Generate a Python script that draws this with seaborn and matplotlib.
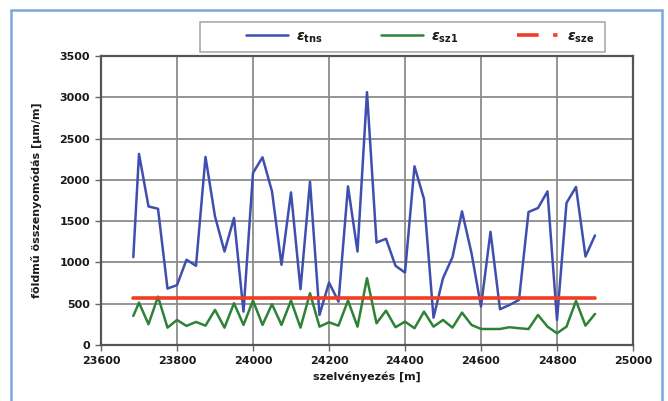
import matplotlib
matplotlib.use("Agg")
import matplotlib.pyplot as plt
from matplotlib.lines import Line2D
from matplotlib.patches import Rectangle
import seaborn as sns
import pandas as pd

# ---- data ----
station = [23685, 23700, 23725, 23750, 23775, 23800, 23825, 23850, 23875, 23900,
           23925, 23950, 23975, 24000, 24025, 24050, 24075, 24100, 24125, 24150,
           24175, 24200, 24225, 24250, 24275, 24300, 24325, 24350, 24375, 24400,
           24425, 24450, 24475, 24500, 24525, 24550, 24575, 24600, 24625, 24650,
           24675, 24700, 24725, 24750, 24775, 24800, 24825, 24850, 24875, 24900]
eps_tns = [1064, 2314, 1678, 1650, 683, 725, 1032, 959, 2278, 1557,
           1132, 1538, 404, 2084, 2273, 1860, 971, 1848, 676, 1978,
           364, 756, 525, 1921, 1132, 3062, 1241, 1286, 959, 877,
           2164, 1768, 331, 809, 1064, 1618, 1113, 465, 1371, 433,
           485, 546, 1610, 1659, 1860, 303, 1720, 1914, 1072, 1327]
eps_sz1 = [352, 513, 251, 586, 210, 303, 231, 279, 234, 425,
           210, 506, 243, 538, 243, 494, 243, 538, 210, 627,
           222, 275, 234, 538, 222, 809, 263, 416, 215, 283,
           203, 404, 222, 303, 210, 392, 243, 194, 193, 194,
           215, 203, 193, 364, 222, 142, 222, 534, 234, 376]
sze_station = [23685, 24900]
eps_sze = [570, 570]

x_ticks = [23600, 23800, 24000, 24200, 24400, 24600, 24800, 25000]
y_ticks = [0, 500, 1000, 1500, 2000, 2500, 3000, 3500]
labels = [r"$\epsilon_{\mathbf{tns}}$", r"$\epsilon_{\mathbf{sz1}}$", r"$\epsilon_{\mathbf{sze}}$"]

df = pd.DataFrame({"x": station, "tns": eps_tns, "sz1": eps_sz1})
df_sze = pd.DataFrame({"x": sze_station, "sze": eps_sze})

sns.set_style("white")
plt.rcParams["font.family"] = ["DejaVu Sans"]
plt.rcParams["font.weight"] = "bold"
plt.rcParams["mathtext.default"] = "it"
TXT = "#1a1a1a"
plt.rcParams["text.color"] = TXT
plt.rcParams["axes.labelcolor"] = TXT
plt.rcParams["xtick.color"] = TXT
plt.rcParams["ytick.color"] = TXT

BLUE = "#3f4fae"
GREEN = "#2e8236"
RED = "#f23d22"

fig = plt.figure(figsize=(6.68, 4.01), dpi=100)
ax = fig.add_axes([0.1512, 0.1397, 0.7964, 0.7207])

sns.lineplot(data=df, x="x", y="tns", ax=ax, color=BLUE, lw=1.8, zorder=3)
sns.lineplot(data=df, x="x", y="sz1", ax=ax, color=GREEN, lw=1.8, zorder=3)
sns.lineplot(data=df_sze, x="x", y="sze", ax=ax, color=RED, lw=2.6, zorder=4)

ax.set_xlim(23600, 25000)
ax.set_ylim(0, 3500)
ax.set_xticks(x_ticks)
ax.set_yticks(y_ticks)
ax.set_xticklabels([str(v) for v in x_ticks], fontsize=8, fontweight="bold")
ax.set_yticklabels([str(v) for v in y_ticks], fontsize=8, fontweight="bold")
ax.grid(True, color="#8c8c8c", lw=1.3)
ax.set_axisbelow(True)
for s in ax.spines.values():
    s.set_visible(True)
    s.set_color("#555555")
    s.set_linewidth(1.6)
ax.tick_params(axis="both", which="major", direction="out", length=4, width=1,
               color="#666666", pad=4, bottom=True, left=True)

ax.set_xlabel("szelvényezés [m]", fontsize=8, fontweight="bold", labelpad=4)
ax.set_ylabel("földmű összenyomódás [µm/m]", fontsize=8, fontweight="bold", labelpad=12)

# legend frame box
fig.patches.append(Rectangle((200 / 668, 1 - 52 / 401), 405 / 668, 30 / 401,
                             transform=fig.transFigure, fill=False,
                             edgecolor="#aaaaaa", lw=1.2))
handles = [Line2D([], [], color=BLUE, lw=1.8),
           Line2D([], [], color=GREEN, lw=1.8),
           Line2D([], [], color=RED, lw=2.6, linestyle=(0, (6, 4, 1.2, 4)))]
leg = fig.legend(handles, labels, loc="center",
                 bbox_to_anchor=(420 / 668, 1 - 37 / 401),
                 ncol=3, fontsize=10, frameon=False,
                 handlelength=3.0, handletextpad=0.6, columnspacing=4.2,
                 borderaxespad=0, borderpad=0)

fig.patches.append(Rectangle((11 / 668, -0.1), 651 / 668, 1.1 - 10 / 401,
                             transform=fig.transFigure, fill=False,
                             edgecolor="#7aa6dc", lw=1.8))

fig.savefig("out.png", dpi=100)
